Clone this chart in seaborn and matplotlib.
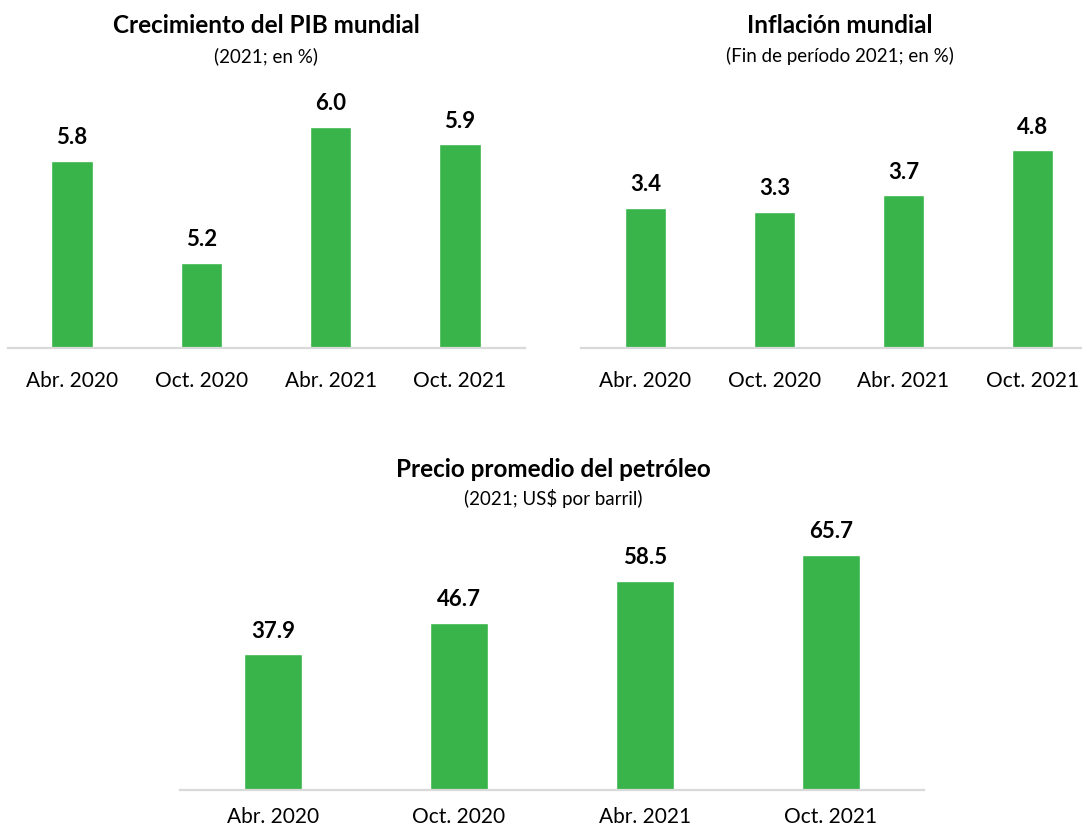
import seaborn as sns
import matplotlib.pyplot as plt
import pandas as pd

# data
periodos = ["Abr. 2020", "Oct. 2020", "Abr. 2021", "Oct. 2021"]
pib = [5.8, 5.2, 6.0, 5.9]
inflacion = [3.4, 3.3, 3.7, 4.8]
petroleo = [37.9, 46.7, 58.5, 65.7]

sns.set_style("white")
plt.rcParams['font.family'] = ['Lato', 'DejaVu Sans']
plt.rcParams['text.color'] = 'black'
plt.rcParams['xtick.color'] = 'black'

VERDE = "#38b44a"
GRIS = "#d9d9d9"

W, H = 1082, 831
fig = plt.figure(figsize=(W / 100, H / 100), dpi=100)


def px_axes(x0, x1, base, ymin, ymax, scale):
    # axes placed in pixel coords: x range, baseline y (from top), px per unit
    h = (ymax - ymin) * scale
    return fig.add_axes([x0 / W, 1 - base / H, (x1 - x0) / W, h / H])


def panel(ax, vals, ylim, width, pad):
    df = pd.DataFrame({"periodo": periodos, "valor": vals})
    sns.barplot(data=df, x="periodo", y="valor", color=VERDE, width=width,
                saturation=1, ax=ax)
    ax.set_xlim(-0.5, 3.5)
    ax.set_ylim(*ylim)
    ax.set_xlabel("")
    ax.set_ylabel("")
    ax.set_yticks([])
    for s in ["top", "left", "right"]:
        ax.spines[s].set_visible(False)
    ax.spines["bottom"].set_color(GRIS)
    ax.spines["bottom"].set_linewidth(1.6)
    ax.tick_params(axis="x", length=0, pad=pad, labelsize=15, labelcolor="black")
    for i, v in enumerate(vals):
        ax.annotate(f"{v:.1f}", (i, v), xytext=(0, 9), textcoords="offset points",
                    ha="center", va="bottom", fontsize=16, fontweight="bold")


ax1 = px_axes(7.5, 524.5, 348, 4.7, 6.5, 170)
panel(ax1, pib, (4.7, 6.5), 0.32, 16.5)

ax2 = px_axes(581, 1097, 348, 0, 6, 41.25)
panel(ax2, inflacion, (0, 6), 0.32, 16.5)

ax3 = px_axes(180, 924, 790, 0, 75, 3.58)
panel(ax3, petroleo, (0, 75), 0.31, 12)

titulos = [
    (266, 33, 62, "Crecimiento del PIB mundial", "(2021; en %)"),
    (840, 33, 62, "Inflación mundial", "(Fin de período 2021; en %)"),
    (553, 477, 505, "Precio promedio del petróleo", "(2021; US$ por barril)"),
]
for x, yt, ys, t, s in titulos:
    fig.text(x / W, 1 - yt / H, t, ha="center", va="baseline",
             fontsize=17.5, fontweight="bold")
    fig.text(x / W, 1 - ys / H, s, ha="center", va="baseline", fontsize=13.5)

fig.savefig("out.png", dpi=100)
